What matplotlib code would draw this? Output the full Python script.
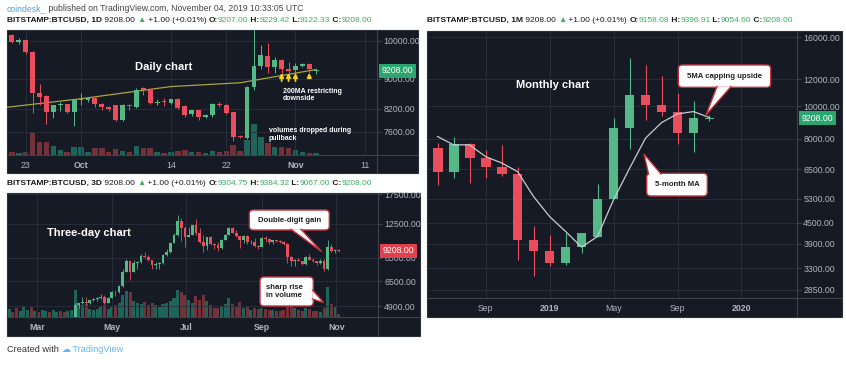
import datetime as dt
import matplotlib
matplotlib.use("Agg")
import matplotlib.pyplot as plt
import matplotlib.dates as mdates
from matplotlib.patches import Rectangle, FancyBboxPatch, Polygon
from matplotlib.ticker import NullLocator

plt.rcParams['font.family'] = ['Liberation Sans', 'DejaVu Sans']

# ---------------- daily chart, Sep 21 - Nov 4 2019 ----------------
daily_first = dt.datetime(2019, 9, 21)
d_open = [10150, 9970, 10030, 9700, 8620, 8550, 8120, 8300, 8330, 8120, 8430, 8440, 8490, 8330, 8250,
          8300, 7920, 8300, 8260, 8740, 8700, 8360, 8400, 8360, 8460, 8270, 8060, 8160, 8000, 8040,
          8340, 8300, 8120, 7480, 7430, 8770, 9330, 9600, 9310, 9500, 9250, 9240, 9340, 9390, 9207]
d_high = [10180, 10080, 10050, 9720, 8860, 8560, 8310, 8380, 8340, 8450, 8620, 8520, 8500, 8360, 8280,
          8310, 8330, 8340, 8740, 8780, 8760, 8450, 8480, 8470, 8490, 8300, 8160, 8180, 8070, 8350,
          8390, 8320, 8130, 7520, 8800, 10350, 9890, 9930, 9560, 9520, 9450, 9400, 9420, 9420, 9229]
d_low = [9950, 9900, 9650, 8100, 8300, 7790, 7950, 8150, 8100, 7760, 8300, 8380, 8250, 8180, 8150,
         7880, 7880, 8180, 8220, 8570, 8330, 8300, 8280, 8330, 8200, 8000, 8020, 7920, 7950, 8000,
         8260, 8060, 7350, 7430, 7420, 8700, 9250, 9150, 9150, 9100, 9060, 9100, 9300, 9150, 9122]
d_close = [9970, 10010, 9700, 8620, 8510, 8120, 8300, 8330, 8120, 8430, 8450, 8490, 8330, 8250, 8200,
           7920, 8300, 8270, 8700, 8700, 8360, 8390, 8380, 8460, 8220, 8040, 8160, 7990, 8040, 8340,
           8300, 8080, 7470, 7460, 8770, 9330, 9620, 9310, 9500, 9260, 9200, 9340, 9380, 9260, 9208]
# volume, thousand BTC (approx.)
d_vol = [3.3, 2.3, 3.3, 22.7, 13.3, 13.3, 9.3, 5, 3.3, 8.3, 8.3, 3.3, 6.7, 6.7, 3.3,
         5.7, 4, 3.3, 9.3, 6.7, 6.7, 3.3, 2.3, 3.3, 4, 5, 3.3, 3.3, 2.3, 4.3,
         3.3, 4.3, 10, 4.3, 15, 31, 18.3, 11.7, 8.3, 8.3, 6.7, 5, 3.3, 2.3, 1.7]
# 200-day moving average read at a few dates
ma200_dates = [dt.datetime(2019, 9, 20, 8), dt.datetime(2019, 10, 1), dt.datetime(2019, 10, 14),
               dt.datetime(2019, 10, 24), dt.datetime(2019, 11, 4)]
ma200_vals = [8245, 8470, 8790, 8890, 9240]
arrow_dates = [dt.datetime(2019, 10, 30), dt.datetime(2019, 10, 31), dt.datetime(2019, 11, 1),
               dt.datetime(2019, 11, 3)]
arrow_tail = [8860, 8860, 8860, 8960]
arrow_head = [9225, 9225, 9225, 9225]
d_yticks = [10000, 9000, 8200, 7600]
d_xticks = [dt.datetime(2019, 9, 23), dt.datetime(2019, 10, 1), dt.datetime(2019, 10, 14),
            dt.datetime(2019, 10, 22), dt.datetime(2019, 11, 1), dt.datetime(2019, 11, 11)]
d_xlabels = ['23', 'Oct', '14', '22', 'Nov', '11']

# ---------------- three-day chart, Feb 6 - Nov 3 2019 ----------------
t_first = dt.datetime(2019, 2, 6)
t_open = [3400, 3650, 3620, 3600, 3660, 3900, 4100, 3800, 3820, 3800, 3860, 3880, 3870, 3980, 4000,
          3990, 3930, 4060, 4140, 4950, 5050, 5150, 5050, 5220, 5300, 5350, 5450, 5100, 5380, 5750,
          5720, 6150, 7250, 8200, 7250, 8000, 8050, 8700, 8550, 8300, 7800, 7950, 8000, 8800, 9100,
          10100, 11000, 12900, 11900, 10800, 11000, 12300, 11300, 10200, 9700, 10750, 9900, 9850, 9500, 10400,
          10980, 11950, 11280, 10860, 10350, 10900, 10120, 10140, 9700, 9600, 10580, 10480, 10110, 10360, 10310,
          10160, 9990, 8530, 8190, 8300, 8150, 7870, 8590, 8300, 8160, 7960, 8210, 7430, 9550, 9180, 9304.75]
t_high = [3700, 3700, 3680, 3700, 4000, 4200, 4200, 3870, 3860, 3900, 3950, 3920, 4000, 4050, 4070,
          4030, 4100, 4150, 5100, 5100, 5400, 5450, 5250, 5350, 5400, 5650, 5550, 5400, 5800, 5900,
          6200, 7500, 8400, 8300, 8300, 8150, 8900, 9100, 8800, 8300, 8100, 8100, 8900, 9400, 10200,
          11200, 13880, 13300, 12200, 12000, 12400, 13200, 11900, 11000, 10800, 10900, 10000, 10200, 10500, 11100,
          12000, 12000, 11600, 10900, 10950, 10950, 10450, 10600, 9800, 10800, 10900, 10600, 10450, 10450, 10350,
          10300, 10100, 8700, 8350, 8500, 8220, 8700, 8850, 8450, 8200, 8350, 8350, 10350, 9950, 9400, 9384.32]
t_low = [3370, 3590, 3560, 3580, 3640, 3880, 3700, 3760, 3780, 3700, 3830, 3820, 3840, 3950, 3960,
         3900, 3920, 4000, 4100, 4800, 5000, 4950, 5000, 5200, 5200, 5300, 5000, 5100, 5360, 5500,
         5700, 6100, 7200, 6600, 7200, 7500, 8000, 8500, 8200, 7500, 7450, 7500, 7900, 8700, 8950,
         10000, 10900, 10300, 9650, 10800, 10950, 11000, 10100, 9100, 9300, 9800, 9400, 9200, 9400, 10400,
         10980, 11200, 10800, 9500, 10050, 9900, 9950, 9600, 9350, 9600, 10200, 9900, 9950, 10150, 10050,
         9850, 8000, 7750, 7700, 8150, 7800, 7800, 8250, 8100, 7800, 7900, 7300, 7400, 9050, 8950, 9067]
t_close = [3650, 3620, 3600, 3660, 3900, 4100, 3800, 3820, 3800, 3860, 3880, 3870, 3980, 4000, 3990,
           3930, 4060, 4140, 4950, 5050, 5150, 5050, 5220, 5300, 5350, 5450, 5100, 5380, 5750, 5720,
           6150, 7250, 8200, 7250, 8000, 8050, 8700, 8550, 8300, 7800, 7950, 8000, 8800, 9100, 10100,
           11000, 12900, 11900, 10800, 11000, 12300, 11300, 10200, 9700, 10750, 9900, 9850, 9500, 10400, 10980,
           11950, 11280, 10860, 10350, 10900, 10120, 10140, 9700, 9600, 10580, 10480, 10110, 10360, 10310, 10160,
           9990, 8530, 8190, 8300, 8150, 7870, 8590, 8300, 8160, 7960, 8210, 7430, 9550, 9180, 9300, 9208]
t_vol = [8, 5, 9, 6, 11, 7, 10, 6, 5, 7, 6, 5, 7, 5, 6, 5, 6, 7,
         27, 14, 12, 13, 8, 7, 8, 11, 12, 8,
         10, 12, 14, 22, 26, 25, 16, 14, 13, 15, 12,
         14, 12, 10, 13, 14, 16, 19, 27, 25, 22,
         17, 14, 21, 17, 22, 16, 12, 9, 9, 11,
         13, 19, 13, 10, 15, 9, 10, 7, 9, 8,
         9, 8, 7, 7, 6, 6, 7, 12, 11, 9,
         7, 6, 9, 8, 6, 6, 5, 9, 30, 13, 10, 3]
t_yticks = [17500, 12500, 8500, 6500, 4900]
t_xticks = [dt.datetime(2019, 3, 1), dt.datetime(2019, 5, 1), dt.datetime(2019, 7, 1),
            dt.datetime(2019, 9, 1), dt.datetime(2019, 11, 1)]
t_xlabels = ['Mar', 'May', 'Jul', 'Sep', 'Nov']

# ---------------- monthly chart, Jun 2018 - Nov 2019 ----------------
m_open = [7500, 6390, 7730, 7030, 6610, 6300, 3990, 3710, 3410, 3820, 4100, 5300, 8590, 10790, 10080,
          9630, 8310, 9158.08]
m_high = [7760, 8100, 7750, 7410, 7680, 6600, 4420, 4150, 4200, 4140, 5850, 9200, 13860, 13250, 12300,
          10950, 10350, 9396.91]
m_low = [5840, 6120, 5900, 6100, 6200, 3500, 3120, 3350, 3380, 3670, 4080, 5330, 7460, 9100, 9340,
         7700, 7300, 9054.60]
m_close = [6390, 7730, 7030, 6610, 6300, 3990, 3710, 3410, 3820, 4200, 5300, 8590, 10790, 10080, 9630,
           8310, 9200, 9208]
m_ma5 = [8120, 7670, 7670, 7080, 6780, 6390, 5390, 4700, 4245, 3816, 4100, 5270, 6530, 8030, 8930,
         9480, 9630, 9240]
m_yticks = [16000, 12000, 10000, 8000, 6500, 5300, 4500, 3900, 3300, 2850]
m_xticks = [3, 7, 11, 15, 19]
m_xlabels = ['Sep', '2019', 'May', 'Sep', '2020']

# ---------------- style ----------------
W, H = 846, 366
BG = '#161a24'
GRID = '#2a2f3b'
SEP = '#3d414c'
UP, DN = '#53b987', '#eb4d5c'
VUP, VDN = '#1f6458', '#73313a'
TICK = '#b2b5be'
DARK = '#1a1a1a'
GV = '#3cae5f'
FS_TICK = 6.3
FS_TITLE = 6.0


def rect(x0, y0, x1, y1):
    return [x0 / W, 1 - y1 / H, (x1 - x0) / W, (y1 - y0) / H]


fig = plt.figure(figsize=(W / 100, H / 100), dpi=100)
bg = fig.add_axes([0, 0, 1, 1], zorder=0)
bg.set_xlim(0, W)
bg.set_ylim(H, 0)
bg.axis('off')
ov = fig.add_axes([0, 0, 1, 1], zorder=10)
ov.set_xlim(0, W)
ov.set_ylim(H, 0)
ov.axis('off')


def panel(frame, plot):
    x0, y0, x1, y1 = frame
    bg.add_patch(Rectangle((x0, y0), x1 - x0, y1 - y0, fc=BG, ec='#2c303a', lw=0.8))
    bg.plot([plot[2], plot[2]], [y0, y1], color=SEP, lw=0.8)
    bg.plot([x0, x1], [plot[3], plot[3]], color=SEP, lw=0.8)
    vax = fig.add_axes(rect(*plot), zorder=2)
    ax = vax.twinx()
    ax.set_zorder(3)
    ax.xaxis.set_visible(True)
    for a in (ax, vax):
        a.patch.set_visible(False)
        for s in a.spines.values():
            s.set_visible(False)
    vax.set_yticks([])
    vax.tick_params(axis='x', length=0, labelbottom=False)
    ax.yaxis.tick_right()
    ax.tick_params(axis='y', color=SEP, labelcolor=TICK, labelsize=FS_TICK, length=3, pad=1.5)
    ax.tick_params(axis='x', length=0, labelcolor=TICK, labelsize=FS_TICK, pad=4.5,
                   labelbottom=True, bottom=True)
    ax.grid(True, color=GRID, lw=0.6)
    return ax, vax


def candles(ax, x, o, h, l, c, width, min_h, lw=0.7):
    cols = [UP if ci >= oi else DN for oi, ci in zip(o, c)]
    ax.vlines(x, l, h, colors=cols, lw=lw, zorder=3)
    bottoms = [min(oi, ci) for oi, ci in zip(o, c)]
    heights = [max(abs(ci - oi), min_h * ci) for oi, ci in zip(o, c)]
    ax.bar(x, heights, width, bottom=bottoms, color=cols, lw=0, zorder=4)
    return cols


def price_axis(ax, ticks, ylim, log=False):
    if log:
        ax.set_yscale('log')
    ax.set_ylim(*ylim)
    ax.set_yticks(ticks)
    ax.set_yticklabels(['%.2f' % t for t in ticks])
    ax.yaxis.set_minor_locator(NullLocator())


def last_price(ax, color):
    ax.annotate('9208.00', xy=(1, 9208), xycoords=('axes fraction', 'data'), xytext=(3.2, 0),
                textcoords='offset points', ha='left', va='center', fontsize=FS_TICK, color='white',
                annotation_clip=False, zorder=6,
                bbox=dict(boxstyle='square,pad=0.3', fc=color, ec='none'))


def bold_labels(ax, names):
    for t in ax.get_xticklabels():
        if t.get_text() in names:
            t.set_fontweight('bold')


# ---------------- daily panel ----------------
ax1, vax1 = panel((7, 30, 418, 173), (7, 30, 377, 155))
dx = [mdates.date2num(daily_first + dt.timedelta(days=i)) for i in range(len(d_open))]
cols = candles(ax1, dx, d_open, d_high, d_low, d_close, 0.7, 0.0025)
vax1.bar(dx, d_vol, 0.8, color=[VUP if c == UP else VDN for c in cols], lw=0)
vax1.set_ylim(0, 125)
ax1.plot(mdates.date2num(ma200_dates), ma200_vals, color='#a9a53a', lw=0.9, zorder=2)
for d, t0, t1 in zip(arrow_dates, arrow_tail, arrow_head):
    ax1.annotate('', xy=(mdates.date2num(d), t1), xytext=(mdates.date2num(d), t0),
                 arrowprops=dict(arrowstyle='-|>', color='#f2d21b', lw=1.3, mutation_scale=6))
price_axis(ax1, d_yticks, (6985, 10282))
ax1.set_xlim(mdates.date2num(dt.datetime(2019, 9, 20, 7)), mdates.date2num(dt.datetime(2019, 11, 12, 19)))
ax1.set_xticks(mdates.date2num(d_xticks))
ax1.set_xticklabels(d_xlabels)
bold_labels(ax1, ['Oct', 'Nov'])
last_price(ax1, '#2aa66e')

# ---------------- three-day panel ----------------
ax2, vax2 = panel((7, 193, 420, 336), (7, 193, 378, 317))
tx = [mdates.date2num(t_first + dt.timedelta(days=3 * i)) for i in range(len(t_open))]
cols = candles(ax2, tx, t_open, t_high, t_low, t_close, 2.3, 0.002, lw=0.6)
vax2.bar(tx, t_vol, 2.5, color=[VUP if c == UP else VDN for c in cols], lw=0)
vax2.set_ylim(0, 124)
price_axis(ax2, t_yticks, (4324, 17760), log=True)
ax2.set_xlim(mdates.date2num(dt.datetime(2019, 2, 4, 3)), mdates.date2num(dt.datetime(2019, 12, 5, 5)))
ax2.set_xticks(mdates.date2num(t_xticks))
ax2.set_xticklabels(t_xlabels)
bold_labels(ax2, t_xlabels)
last_price(ax2, '#e0414f')

# ---------------- monthly panel ----------------
ax3, vax3 = panel((427, 31, 842, 317), (427, 31, 797, 298))
vax3.set_ylim(0, 1)
mx = list(range(len(m_open)))
candles(ax3, mx, m_open, m_high, m_low, m_close, 0.62, 0.0015, lw=0.8)
ax3.plot(mx, m_ma5, color='#c9cbd1', lw=0.9, zorder=5)
price_axis(ax3, m_yticks, (2693, 16703), log=True)
ax3.set_xlim(-0.66, 22.47)
ax3.set_xticks(m_xticks)
ax3.set_xticklabels(m_xlabels)
bold_labels(ax3, ['2019', '2020'])
last_price(ax3, '#2aa66e')


# ---------------- header rows ----------------
def row(x, y, parts, fs):
    first = ov.text(x, y, parts[0][0], color=parts[0][1], fontweight=parts[0][2], fontsize=fs,
                    ha='left', va='center')
    prev = first
    for s, col, wt in parts[1:]:
        prev = ov.annotate(s, xy=(1, 0), xycoords=(prev, first), ha='left', va='bottom',
                           color=col, fontweight=wt, fontsize=fs)


def title_parts(res, o, h, l):
    return [('BITSTAMP:BTCUSD, ' + res, DARK, 'bold'), (' 9208.00 ', DARK, 'normal'),
            ('▲', GV, 'normal'), (' +1.00 (+0.01%) ', DARK, 'normal'),
            ('O:', DARK, 'bold'), (o, GV, 'normal'), (' H:', DARK, 'bold'), (h, GV, 'normal'),
            (' L:', DARK, 'bold'), (l, GV, 'normal'), (' C:', DARK, 'bold'), ('9208.00', GV, 'normal')]


row(7, 8.5, [('coindesk_', '#4aa3df', 'normal'),
             (' published on TradingView.com, November 04, 2019 10:33:05 UTC', '#444444', 'normal')], 6.2)
row(7, 20.5, title_parts('1D', '9207.00', '9229.42', '9122.33'), FS_TITLE)
row(427, 20.5, title_parts('1M', '9158.08', '9396.91', '9054.60'), FS_TITLE)
row(7, 183.3, title_parts('3D', '9304.75', '9384.32', '9067.00'), FS_TITLE)
row(7, 349.5, [('Created with ', '#333333', 'normal'), ('☁', '#64b5f6', 'normal'),
               (' TradingView', '#64b5f6', 'normal')], 6.6)

# ---------------- annotations ----------------
ov.text(164, 67, 'Daily chart', color='white', fontweight='bold', fontsize=8, ha='center', va='center')
ov.text(283, 88, '200MA restricting\ndownside', color='white', fontweight='bold', fontsize=5,
        ha='left', va='top', linespacing=1.05)
ov.text(269, 127.5, 'volumes dropped during\npullback', color='white', fontweight='bold', fontsize=5,
        ha='left', va='top', linespacing=1.05)
ov.text(89, 233.3, 'Three-day chart', color='white', fontweight='bold', fontsize=8, ha='center', va='center')
ov.text(553, 84.7, 'Monthly chart', color='white', fontweight='bold', fontsize=8, ha='center', va='center')


def callout(x0, y0, x1, y1, b1, b2, tip, text, tx, ty, ha='center'):
    edge = '#c8323c'
    ov.add_patch(FancyBboxPatch((x0, y0), x1 - x0, y1 - y0, boxstyle='round,pad=0,rounding_size=4',
                                fc='white', ec=edge, lw=1.0, zorder=11))
    ov.add_patch(Polygon([b1, tip, b2], closed=True, fc='white', ec='none', zorder=12))
    ov.plot([b1[0], tip[0], b2[0]], [b1[1], tip[1], b2[1]], color=edge, lw=1.0, zorder=13,
            solid_joinstyle='miter')
    ov.text(tx, ty, text, color='#202020', fontweight='bold', fontsize=5.6, ha=ha, va='center',
            zorder=14, linespacing=1.15)


callout(249.3, 210, 329.3, 230, (291, 229.3), (301, 229.3), (321.5, 251.5), 'Double-digit gain', 289.3, 220)
callout(260, 277, 313.3, 306, (312.6, 290), (312.6, 299), (323.5, 302.5), 'sharp rise\nin volume',
        266, 291.5, ha='left')
callout(678.3, 65, 770.7, 87.3, (717, 86.6), (731, 86.6), (706, 115), '5MA capping upside', 724.5, 76.2)
callout(646.7, 173.3, 707.3, 196, (648.5, 174), (661, 174), (644, 154), '5-month MA', 677, 184.7)

fig.savefig('out.png', dpi=100)
